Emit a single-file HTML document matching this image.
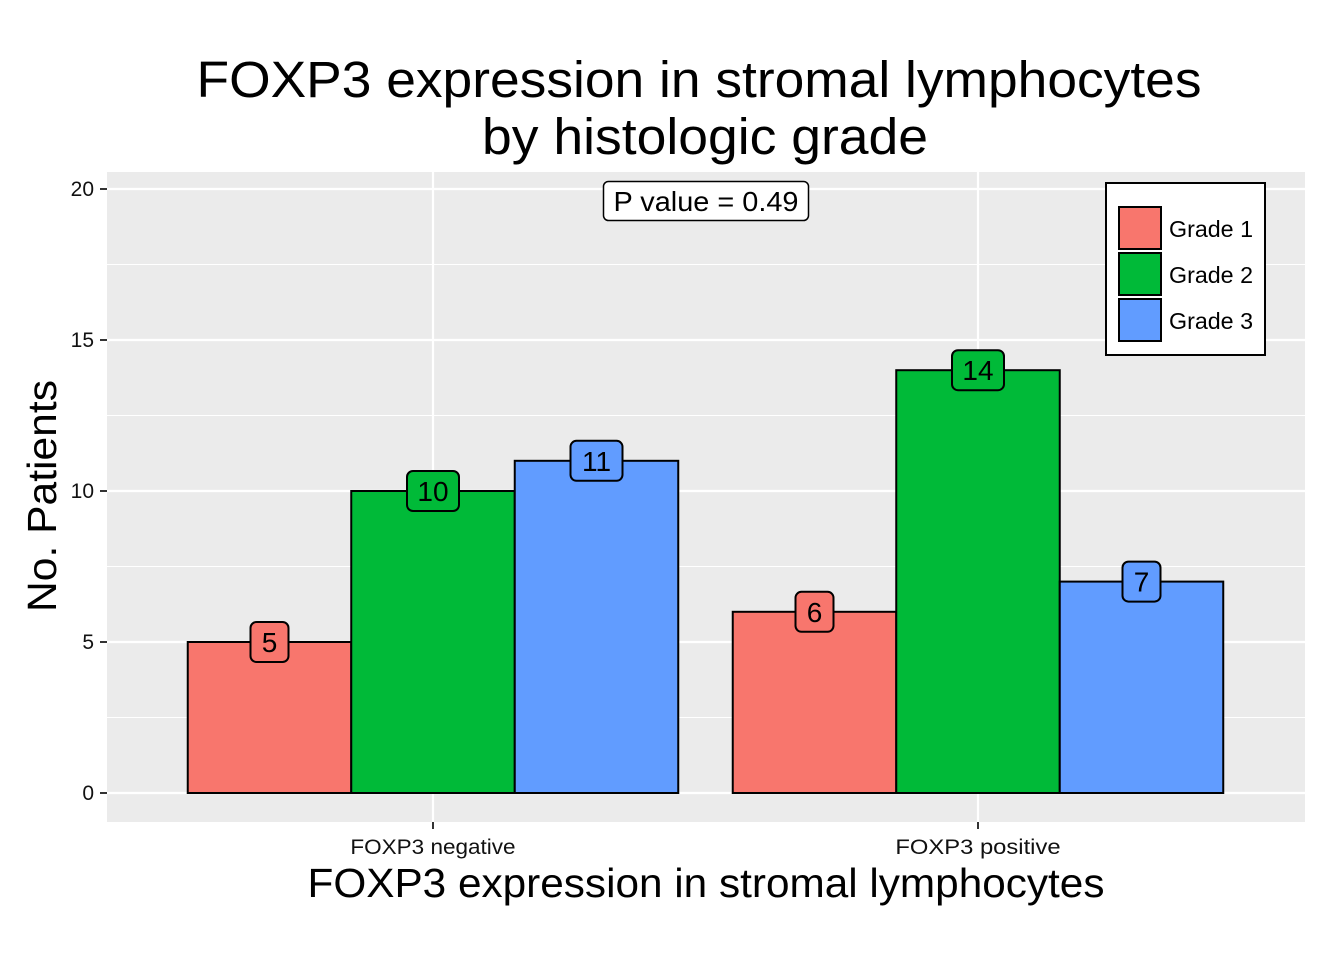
<!DOCTYPE html>
<html><head><meta charset="utf-8"><style>
body{margin:0;background:#fff;}
svg{display:block;font-family:"Liberation Sans",Arial,sans-serif;}
</style></head><body>
<svg id="chart" width="1344" height="960" viewBox="0 0 1344 960">
<text x="699" y="97" font-size="51" text-anchor="middle" textLength="1005" lengthAdjust="spacingAndGlyphs">FOXP3 expression in stromal lymphocytes</text>
<text x="705" y="154" font-size="51" text-anchor="middle" textLength="446" lengthAdjust="spacingAndGlyphs">by histologic grade</text>
<rect x="107" y="172" width="1198" height="650" fill="#ebebeb"/>
<g id="grid"></g>
<g id="bars"></g>
<g id="labels"></g>
<g id="axes"></g>
<g>
<rect x="603.5" y="181.5" width="205" height="39" rx="5" fill="#fff" stroke="#000" stroke-width="1.5"/>
<text x="706" y="211" font-size="28" text-anchor="middle" textLength="185" lengthAdjust="spacingAndGlyphs">P value = 0.49</text>
</g>
<g>
<rect x="1106" y="183" width="159" height="172" fill="#fff" stroke="#000" stroke-width="2"/>
<g id="legend-items"></g>
</g>
<text x="706" y="897" font-size="41" text-anchor="middle" textLength="797" lengthAdjust="spacingAndGlyphs">FOXP3 expression in stromal lymphocytes</text>
<text transform="translate(56,496) rotate(-90)" font-size="41" text-anchor="middle" textLength="232" lengthAdjust="spacingAndGlyphs">No. Patients</text>
</svg>
<script>
const categories=["FOXP3 negative","FOXP3 positive"];
const series=["Grade 1","Grade 2","Grade 3"];
const grade1=[5,6];
const grade2=[10,14];
const grade3=[11,7];
const yTicks=[0,5,10,15,20];
const colors=["#f8766d","#00ba38","#619cff"];
const NS="http://www.w3.org/2000/svg";
const y=v=>793-v*30.2;
const cx=i=>433+i*545;
const bw=163.5;
function mk(tag,attrs,parent,txt){const e=document.createElementNS(NS,tag);for(const k in attrs)e.setAttribute(k,attrs[k]);if(txt!=null)e.textContent=txt;document.getElementById(parent).appendChild(e);return e;}
for(let i=0;i<yTicks.length-1;i++){const m=(yTicks[i]+yTicks[i+1])/2;const l=mk('line',{x1:107,x2:1305,y1:y(m),y2:y(m),stroke:'#fff','stroke-width':1},'grid');}
yTicks.forEach(t=>{const l=mk('line',{x1:107,x2:1305,y1:y(t),y2:y(t),stroke:'#fff','stroke-width':2.2},'grid');
const tk=mk('line',{x1:100,x2:107,y1:y(t),y2:y(t),stroke:'#333','stroke-width':2},'axes');
const tx=mk('text',{x:94,y:y(t)+7,'font-size':21,'text-anchor':'end',fill:'#111'},'axes',t);});
categories.forEach((c,i)=>{const l=mk('line',{x1:cx(i),x2:cx(i),y1:172,y2:822,stroke:'#fff','stroke-width':2.2},'grid');
const tk=mk('line',{x1:cx(i),x2:cx(i),y1:822,y2:829,stroke:'#333','stroke-width':2},'axes');
const tx=mk('text',{x:cx(i),y:854,'font-size':21,'text-anchor':'middle',fill:'#111',textLength:c.length*11.8,lengthAdjust:'spacingAndGlyphs'},'axes',c);});
const vals=[grade1,grade2,grade3];
vals.forEach((arr,s)=>arr.forEach((v,i)=>{const x0=cx(i)+(s-1.5)*bw;
const r=mk('rect',{x:x0,y:y(v),width:bw,height:y(0)-y(v),fill:colors[s],stroke:'#000','stroke-width':2},'bars');
const lc=x0+bw/2;const w=String(v).length>1?52:38;
const g=mk('rect',{x:lc-w/2,y:y(v)-20,width:w,height:40,rx:6,fill:colors[s],stroke:'#000','stroke-width':2},'labels');
const t=mk('text',{x:lc,y:y(v)+10,'font-size':28,'text-anchor':'middle'},'labels',v);}));
series.forEach((s,k)=>{const yy=207+k*46;
const r=mk('rect',{x:1119,y:yy,width:42,height:42,fill:colors[k],stroke:'#000','stroke-width':2},'legend-items');
const t=mk('text',{x:1169,y:yy+30,'font-size':23,textLength:84,lengthAdjust:'spacingAndGlyphs'},'legend-items',s);});
</script>
</body></html>
